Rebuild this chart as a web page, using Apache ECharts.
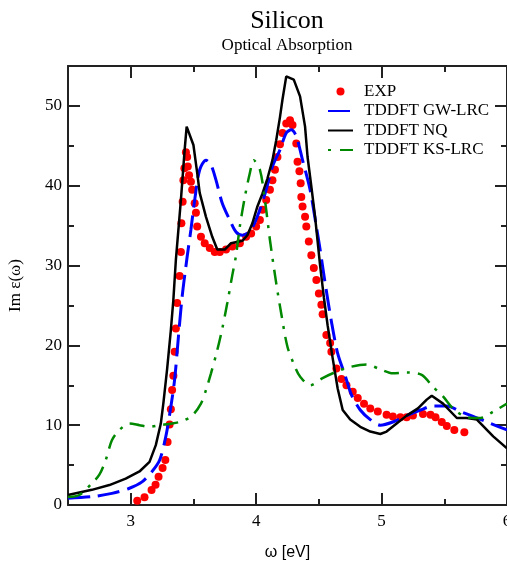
<!DOCTYPE html>
<html><head><meta charset="utf-8">
<script src="https://cdn.jsdelivr.net/npm/echarts@6/dist/echarts.min.js"></script>
<style>html,body{margin:0;padding:0;background:#fff}#c{width:507px;height:563px}</style>
</head><body><div id="c"></div>
<script>
const xMajorTicks = [3, 4, 5, 6];
const xMinorTicks = [2.5, 3.5, 4.5, 5.5];
const yMajorTicks = [0, 10, 20, 30, 40, 50];
const yMinorTicks = [5, 15, 25, 35, 45];

const expData = [
 [3.052,0.54],[3.110,0.96],[3.166,1.88],[3.198,2.54],[3.222,3.55],[3.254,4.64],[3.276,5.64],
 [3.294,7.9],[3.310,10.1],[3.32,12.0],[3.33,14.4],[3.34,16.2],[3.35,19.2],[3.36,22.1],
 [3.37,25.3],[3.39,28.7],[3.40,31.7],[3.404,35.3],[3.414,38.0],[3.42,40.7],[3.428,42.2],
 [3.44,44.2],[3.45,43.6],[3.455,42.4],[3.465,41.3],[3.48,40.5],[3.49,39.5],[3.51,37.8],
 [3.52,36.6],[3.53,34.9],[3.56,33.6],[3.59,32.8],[3.63,32.2],[3.67,31.7],[3.71,31.7],
 [3.76,32.0],[3.81,32.4],[3.87,32.8],[3.92,33.6],[3.96,34.0],[4.00,34.9],[4.03,35.7],
 [4.05,37.0],[4.08,38.2],[4.11,39.5],[4.13,40.7],[4.15,42.0],[4.17,43.6],[4.19,45.2],
 [4.21,46.6],[4.24,47.8],[4.27,48.2],[4.29,47.6],[4.32,45.3],[4.33,43.0],[4.345,41.8],
 [4.355,40.3],[4.36,38.6],[4.37,37.4],[4.39,36.1],[4.40,34.9],[4.42,33.0],[4.44,31.3],
 [4.46,29.7],[4.48,28.2],[4.50,26.5],[4.52,25.1],[4.53,23.9],[4.56,21.3],[4.59,20.3],
 [4.60,19.2],[4.64,17.1],[4.68,15.8],[4.72,15.0],[4.77,14.2],[4.81,13.4],[4.86,12.7],
 [4.91,12.1],[4.97,11.7],[5.04,11.3],[5.09,11.1],[5.15,11.0],[5.20,11.0],[5.25,11.2],
 [5.33,11.4],[5.39,11.3],[5.43,11.0],[5.48,10.4],[5.52,9.9],[5.58,9.4],[5.66,9.1]
];

const gwLrcData = [
 [2.5,0.84],[2.69,1.04],[2.85,1.46],[2.99,2.1],[3.09,2.9],[3.17,4.2],[3.23,5.6],[3.28,8.6],
 [3.32,12.3],[3.35,15.7],[3.38,21.0],[3.41,26.1],[3.45,31.1],[3.48,34.5],[3.51,38.2],
 [3.55,42.0],[3.60,43.2],[3.64,42.6],[3.68,40.7],[3.73,37.8],[3.79,35.7],[3.84,34.2],
 [3.89,33.8],[3.96,34.5],[4.03,37.0],[4.08,39.5],[4.13,42.4],[4.19,44.5],[4.24,46.6],
 [4.28,47.0],[4.32,46.2],[4.37,43.2],[4.43,39.5],[4.48,34.9],[4.51,32.0],[4.55,27.8],
 [4.60,23.0],[4.65,19.0],[4.71,16.2],[4.76,13.8],[4.83,11.9],[4.91,10.7],[4.99,10.0],
 [5.09,10.4],[5.20,11.2],[5.31,11.9],[5.41,12.4],[5.52,12.4],[5.63,11.7],[5.73,11.1],
 [5.87,10.2],[6.0,9.4]
];

const nqData = [
 [2.5,1.25],[2.69,1.9],[2.83,2.5],[2.96,3.3],[3.07,4.2],[3.15,5.4],[3.20,7.5],[3.24,10.2],
 [3.26,12.7],[3.29,17.0],[3.32,21.9],[3.34,25.7],[3.36,30.7],[3.40,38.2],[3.43,44.5],
 [3.446,47.4],[3.50,45.1],[3.53,41.6],[3.55,39.1],[3.60,36.1],[3.65,33.6],[3.69,32.0],
 [3.75,32.0],[3.80,32.8],[3.89,33.1],[3.93,33.8],[3.97,35.3],[4.01,37.4],[4.05,39.0],
 [4.09,40.9],[4.13,43.2],[4.16,45.7],[4.19,48.6],[4.21,50.8],[4.24,53.7],[4.30,53.3],
 [4.35,51.2],[4.39,47.4],[4.41,43.6],[4.44,39.9],[4.47,36.1],[4.51,30.0],[4.54,26.0],
 [4.57,22.5],[4.61,18.4],[4.65,14.6],[4.69,11.9],[4.75,10.7],[4.83,9.8],[4.91,9.2],
 [4.99,8.9],[5.04,9.2],[5.12,10.2],[5.20,11.2],[5.29,12.1],[5.36,13.2],[5.40,13.7],
 [5.49,12.7],[5.60,10.9],[5.68,10.9],[5.76,10.7],[5.89,8.6],[6.0,7.1]
];

const ksLrcData = [
 [2.5,1.0],[2.59,1.25],[2.69,2.7],[2.75,3.8],[2.80,5.6],[2.85,8.1],[2.91,9.4],[2.99,10.2],
 [3.07,10.0],[3.15,9.8],[3.23,10.0],[3.33,10.2],[3.41,10.5],[3.49,11.2],[3.56,12.7],
 [3.60,14.4],[3.64,16.5],[3.69,19.4],[3.73,22.1],[3.77,25.3],[3.81,28.8],[3.84,31.3],
 [3.87,34.9],[3.91,38.6],[3.95,41.6],[3.98,43.2],[4.03,42.0],[4.07,38.2],[4.11,33.2],
 [4.16,27.8],[4.20,24.0],[4.25,19.8],[4.31,17.3],[4.35,16.1],[4.43,15.0],[4.53,15.9],
 [4.64,16.7],[4.75,17.3],[4.88,17.6],[4.99,17.0],[5.09,16.5],[5.20,16.6],[5.32,16.3],
 [5.41,14.8],[5.49,13.6],[5.57,12.1],[5.68,11.0],[5.79,10.9],[5.89,11.7],[6.0,12.7]
];

const SERIF = 'Liberation Serif';
const SANS = 'Liberation Sans';
const FRAME = '#222';

function xAx(grid, pos, ticks, len, showLine, labels) {
  return {
    type: 'value', gridIndex: grid, position: pos, min: 2.5, max: 6,
    axisLine: { show: showLine, onZero: false, lineStyle: { color: FRAME, width: 2 } },
    axisTick: { show: true, inside: true, length: len, customValues: ticks, lineStyle: { color: FRAME, width: 2 } },
    axisLabel: labels ? { show: true, customValues: ticks, fontFamily: SERIF, fontSize: 17, color: '#000', margin: 8 } : { show: false },
    splitLine: { show: false }
  };
}
function yAx(grid, pos, ticks, len, showLine, labels) {
  return {
    type: 'value', gridIndex: grid, position: pos, min: 0, max: 55,
    axisLine: { show: showLine, onZero: false, lineStyle: { color: FRAME, width: 2 } },
    axisTick: { show: true, inside: true, length: len, customValues: ticks, lineStyle: { color: FRAME, width: 2 } },
    axisLabel: labels ? { show: true, customValues: ticks, fontFamily: SERIF, fontSize: 17, color: '#000', margin: 6 } : { show: false },
    splitLine: { show: false }
  };
}

const xAxes = [
  Object.assign(xAx(0, 'bottom', xMajorTicks, 12, true, true), {
    name: 'ω [eV]', nameLocation: 'middle', nameGap: 40,
    nameTextStyle: { fontFamily: SANS, fontSize: 16, color: '#000' }
  }),
  xAx(0, 'top', xMajorTicks, 12, true, false),
  xAx(1, 'bottom', xMinorTicks, 6, false, false),
  xAx(1, 'top', xMinorTicks, 6, false, false)
];
const yAxes = [
  Object.assign(yAx(0, 'left', yMajorTicks, 12, true, true), {
    name: 'Im ε(ω)', nameLocation: 'middle', nameGap: 44,
    nameTextStyle: { fontFamily: SERIF, fontSize: 17, color: '#000' }
  }),
  yAx(0, 'right', yMajorTicks, 12, true, false),
  yAx(1, 'left', yMinorTicks, 6, false, false),
  yAx(1, 'right', yMinorTicks, 6, false, false)
];

const hiddenSymbol = { color: 'rgba(0,0,0,0)', borderWidth: 0, opacity: 0 };

const chart = echarts.init(document.getElementById('c'), null, { renderer: 'canvas' });
chart.setOption({
  animation: false,
  backgroundColor: '#fff',
  title: {
    text: 'Silicon', subtext: 'Optical Absorption',
    left: 287, top: 8, textAlign: 'center', padding: 0, itemGap: 3,
    textStyle: { fontFamily: SERIF, fontSize: 26, fontWeight: 'normal', color: '#000' },
    subtextStyle: { fontFamily: SERIF, fontSize: 17, color: '#000' }
  },
  legend: {
    orient: 'vertical', left: 327, top: 83, padding: 0,
    itemWidth: 25, itemHeight: 8, itemGap: 2.5,
    textStyle: { fontFamily: SERIF, fontSize: 17, color: '#000', padding: [0, 0, 0, 6] },
    data: [
      { name: 'EXP' },
      { name: 'TDDFT GW-LRC', itemStyle: hiddenSymbol },
      { name: 'TDDFT NQ', itemStyle: hiddenSymbol },
      { name: 'TDDFT KS-LRC', itemStyle: hiddenSymbol, lineStyle: { type: [3, 9, 13] } }
    ]
  },
  grid: [
    { left: 68, right: 0, top: 66, bottom: 58, outerBoundsMode: 'none', containLabel: false },
    { left: 68, right: 0, top: 66, bottom: 58, outerBoundsMode: 'none', containLabel: false }
  ],
  xAxis: xAxes,
  yAxis: yAxes,
  series: [
    { name: 'EXP', type: 'scatter', xAxisIndex: 0, yAxisIndex: 0, data: expData,
      symbol: 'circle', symbolSize: 8, itemStyle: { color: '#ff0000', opacity: 1 } },
    { name: 'TDDFT GW-LRC', type: 'line', xAxisIndex: 0, yAxisIndex: 0, data: gwLrcData,
      symbol: 'none', showSymbol: false, smooth: 0.3,
      lineStyle: { color: '#0000ff', width: 3, type: [22, 8] }, itemStyle: { color: '#0000ff' } },
    { name: 'TDDFT NQ', type: 'line', xAxisIndex: 0, yAxisIndex: 0, data: nqData,
      symbol: 'none', showSymbol: false,
      lineStyle: { color: '#000', width: 2.5 }, itemStyle: { color: '#000' } },
    { name: 'TDDFT KS-LRC', type: 'line', xAxisIndex: 0, yAxisIndex: 0, data: ksLrcData,
      symbol: 'none', showSymbol: false, smooth: 0.3,
      lineStyle: { color: '#008800', width: 2.5, type: [15, 8, 3, 8] }, itemStyle: { color: '#008800' } }
  ]
});
</script></body></html>
